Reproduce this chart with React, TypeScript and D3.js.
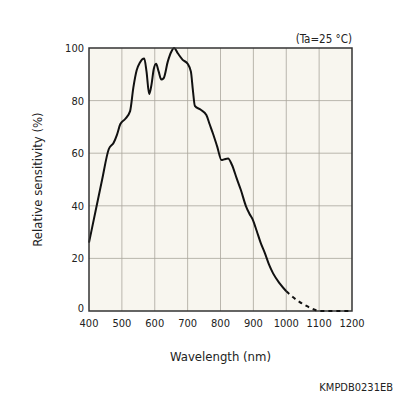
import React from "react";
import * as d3 from "d3";

const solidWl = [400,420,440,460,475,485,495,510,525,535,545,555,568,575,583,590,597,604,612,620,627,640,650,659,670,685,700,710,716,722,740,757,767,777,790,803,812,823,835,849,862,877,888,899,910,922,935,948,960,980,1000];
const solidVal = [26,38,50,61.5,64,67,71,73,76,85,91.5,94.5,96,91,82.5,86,92,94,91,88,88.5,95,98.5,100,98,95.5,94,91,84,78,76.5,74.5,71,67.5,62.5,57.4,57.7,58,55.5,50.5,46,40,37,34.5,30.5,26,22,17.5,14.3,10.5,7.5];
const dashWl = [1000,1020,1040,1060,1080,1100,1200];
const dashVal = [7.5,5.3,3.5,2,0.8,0,0];
const xTicks = [400,500,600,700,800,900,1000,1100,1200];
const yTicks = [0,20,40,60,80,100];

const FONT = "'DejaVu Sans Condensed', 'DejaVu Sans', sans-serif";

export default function App() {
  const L = 89, R = 352, T = 48, B = 311;
  const x = d3.scaleLinear().domain([400, 1200]).range([L, R]);
  const y = d3.scaleLinear().domain([0, 100]).range([B, T]);
  const line = d3.line<[number, number]>().x(d => x(d[0])).y(d => y(d[1])).curve(d3.curveMonotoneX);
  const solid = line(solidWl.map((w, i) => [w, solidVal[i]]) as [number, number][]) || "";
  const dashed = line(dashWl.map((w, i) => [w, dashVal[i]]) as [number, number][]) || "";
  return (
    <svg width={396} height={396} style={{ position: "absolute", left: 0, top: 0 }}>
      <rect x={0} y={0} width={396} height={396} fill="#fff" />
      <rect x={L} y={T} width={R - L} height={B - T} fill="#f8f6ef" />
      {xTicks.slice(1, -1).map(t => (
        <line key={"gx" + t} x1={x(t)} x2={x(t)} y1={T} y2={B} stroke="#aaa69c" strokeWidth={0.8} />
      ))}
      {yTicks.slice(1, -1).map(t => (
        <line key={"gy" + t} x1={L} x2={R} y1={y(t)} y2={y(t)} stroke="#aaa69c" strokeWidth={0.8} />
      ))}
      <path d={solid} fill="none" stroke="#111" strokeWidth={2} />
      <rect x={L} y={T} width={R - L} height={B - T} fill="none" stroke="#333" strokeWidth={1.5} />
      <path d={dashed} fill="none" stroke="#111" strokeWidth={2} strokeDasharray="4,4" />
      {xTicks.map(t => (
        <text key={"tx" + t} x={x(t)} y={327} textAnchor="middle" fontFamily={FONT} fontSize={11} fill="#222">{t}</text>
      ))}
      {yTicks.map(t => (
        <text key={"ty" + t} x={84} y={y(t) + (t === 0 ? 1 : 4)} textAnchor="end" fontFamily={FONT} fontSize={11} fill="#222">{t}</text>
      ))}
      <text x={(L + R) / 2} y={361} textAnchor="middle" fontFamily={FONT} fontSize={13} fill="#222">Wavelength (nm)</text>
      <text transform={`translate(42,${(T + B) / 2}) rotate(-90)`} textAnchor="middle" fontFamily={FONT} fontSize={13} fill="#222">Relative sensitivity (%)</text>
      <text x={R} y={43} textAnchor="end" fontFamily={FONT} fontSize={11.5} fill="#222">(Ta=25 °C)</text>
      <text x={393} y={391} textAnchor="end" fontFamily={FONT} fontSize={11} fill="#222">KMPDB0231EB</text>
    </svg>
  );
}
